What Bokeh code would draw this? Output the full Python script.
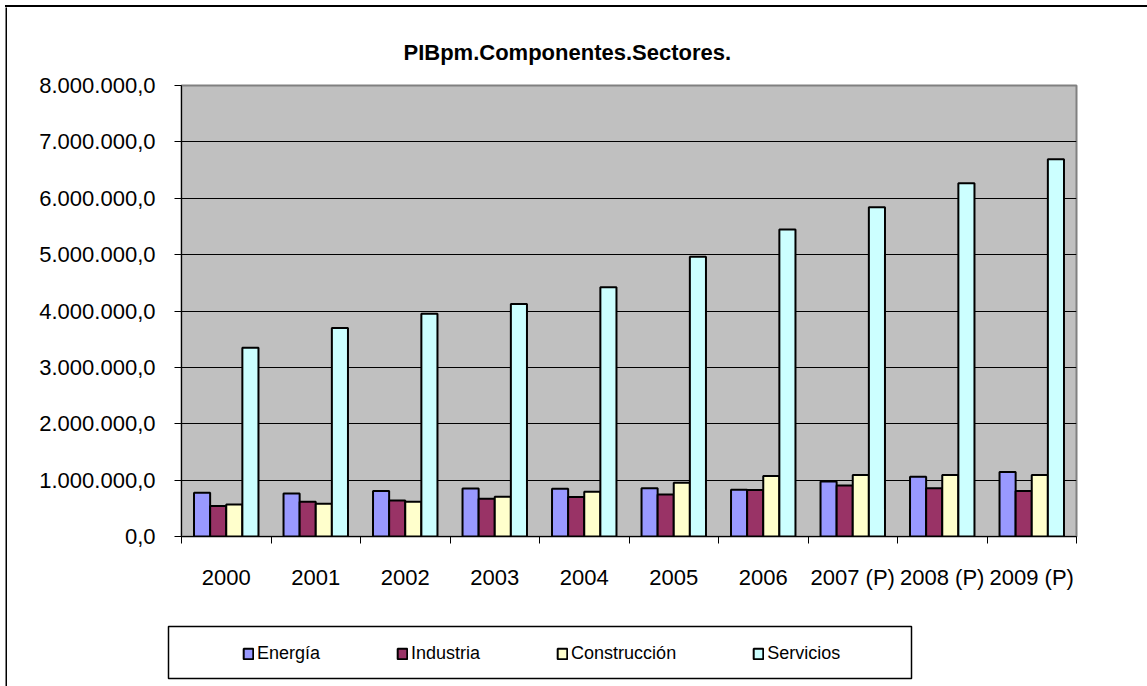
from bokeh.plotting import figure
from bokeh.models import (Range1d, FixedTicker, CustomJSTickFormatter, Legend,
                          LegendItem, ColumnDataSource, BoxAnnotation, Div, Spacer)
from bokeh.layouts import column, row
from bokeh.transform import dodge
from bokeh.embed import file_html
from bokeh.resources import INLINE

# ---------------- data ----------------
title_text = "PIBpm.Componentes.Sectores."
years = ["2000", "2001", "2002", "2003", "2004", "2005", "2006",
         "2007 (P)", "2008 (P)", "2009 (P)"]
series_names = ["Energía", "Industria", "Construcción", "Servicios"]
energia = [775000, 763000, 805000, 851000, 846000, 858000, 828000, 975000, 1058000, 1142000]
industria = [539000, 615000, 638000, 668000, 699000, 745000, 823000, 904000, 858000, 805000]
construccion = [567000, 580000, 615000, 704000, 793000, 952000, 1071000, 1089000, 1089000, 1089000]
servicios = [3348000, 3698000, 3952000, 4124000, 4420000, 4964000, 5444000, 5840000, 6267000, 6693000]
series_values = [energia, industria, construccion, servicios]
colors = ["#9999FF", "#993366", "#FFFFCC", "#CCFFFF"]
y_ticks = [0, 1000000, 2000000, 3000000, 4000000, 5000000, 6000000, 7000000, 8000000]

FONT = "Liberation Sans"

n = len(years)
x_centers = [i + 0.5 for i in range(n)]
bw = 0.18

W_MAIN = 1140

# ---------------- main chart ----------------
p = figure(width=W_MAIN, height=605, output_backend="svg", toolbar_location=None,
           x_range=Range1d(0, n), y_range=Range1d(y_ticks[0], y_ticks[-1]),
           min_border_left=174, min_border_right=71, min_border_top=78,
           min_border_bottom=76)
p.frame_align = False
p.background_fill_color = "#C0C0C0"
p.border_fill_color = "white"
p.outline_line_color = "#808080"
p.outline_line_width = 2

p.title.text = title_text
p.title.text_font = FONT
p.title.text_font_style = "bold"
p.title.text_font_size = "22px"
p.title.text_color = "black"
p.title.align = "left"
p.title.offset = 222
p.title.standoff = 42

p.xgrid.visible = False
p.ygrid.ticker = FixedTicker(ticks=y_ticks[1:-1])
p.ygrid.grid_line_color = "black"
p.ygrid.grid_line_width = 1

p.yaxis.ticker = FixedTicker(ticks=y_ticks)
p.yaxis.formatter = CustomJSTickFormatter(code="""
const parts = tick.toFixed(1).split('.');
return parts[0].replace(/\\B(?=(\\d{3})+(?!\\d))/g, '.') + ',' + parts[1];
""")
p.yaxis.major_label_text_font = FONT
p.yaxis.major_label_text_font_size = "22px"
p.yaxis.major_label_text_color = "black"
p.yaxis.major_tick_in = 0
p.yaxis.major_tick_out = 7
p.yaxis.major_tick_line_color = "black"
p.yaxis.axis_line_color = "black"
p.yaxis.major_label_standoff = 19

p.xaxis.ticker = FixedTicker(ticks=x_centers, minor_ticks=list(range(n + 1)))
p.xaxis.formatter = CustomJSTickFormatter(args=dict(labels=years),
                                          code="return labels[Math.floor(tick)] || '';")
p.xaxis.major_label_text_font = FONT
p.xaxis.major_label_text_font_size = "22px"
p.xaxis.major_label_text_color = "black"
p.xaxis.major_tick_in = 0
p.xaxis.major_tick_out = 0
p.xaxis.minor_tick_in = 0
p.xaxis.minor_tick_out = 7
p.xaxis.minor_tick_line_color = "black"
p.xaxis.axis_line_color = "black"
p.xaxis.major_label_standoff = 21

sources = []
for k, (name, vals, col) in enumerate(zip(series_names, series_values, colors)):
    src = ColumnDataSource(dict(x=x_centers, top=vals))
    sources.append(src)
    off = (k - (len(series_names) - 1) / 2) * bw
    p.vbar(x=dodge('x', off, range=p.x_range), top='top', width=bw, source=src,
           fill_color=col, line_color="black", line_width=2)

# ---------------- legend strip (page-pixel coordinates) ----------------
p2 = figure(width=W_MAIN, height=74, output_backend="svg", toolbar_location=None,
            x_range=Range1d(7, 7 + W_MAIN), y_range=Range1d(686, 612),
            min_border=0, x_axis_type=None, y_axis_type=None, title=None,
            outline_line_color=None)
p2.frame_align = False
p2.background_fill_color = "white"
p2.border_fill_color = "white"
p2.add_layout(BoxAnnotation(left=168, right=911, top=626, bottom=678,
                            fill_color="white", fill_alpha=1,
                            line_color="black", line_width=1.5, line_alpha=1))
proxies = []
for name, col, src in zip(series_names, colors, sources):
    proxies.append(p2.vbar(x='x', top='top', width=1, source=src, fill_color=col,
                           line_color="black", line_width=2, visible=False))
legend = Legend(items=[LegendItem(label=nm, renderers=[r]) for nm, r in zip(series_names, proxies)],
                orientation="horizontal", location=(235, 22), padding=0, spacing=76,
                margin=0, glyph_width=12, glyph_height=13, label_standoff=3,
                label_text_font=FONT, label_text_font_size="18px", label_text_color="black",
                border_line_color=None, background_fill_alpha=0)
p2.add_layout(legend)

# ---------------- outer frame (black edges at left and top) ----------------
left_edge = figure(width=7, height=679, output_backend="svg", toolbar_location=None,
                   min_border_left=5, min_border_top=0, min_border_right=0,
                   min_border_bottom=0, x_axis_type=None, y_axis_type=None, title=None,
                   outline_line_color=None)
left_edge.frame_align = False
left_edge.background_fill_color = "black"
left_edge.border_fill_color = "white"

top_line = Div(text="", width=W_MAIN + 2, height=2, margin=0,
               styles={"background-color": "black"})

layout = column(Spacer(width=W_MAIN + 7, height=5),
                row(Spacer(width=5, height=2), top_line, spacing=0),
                row(left_edge, column(p, p2, spacing=0), spacing=0),
                spacing=0)

open("out.html", "w").write(file_html(layout, INLINE))
